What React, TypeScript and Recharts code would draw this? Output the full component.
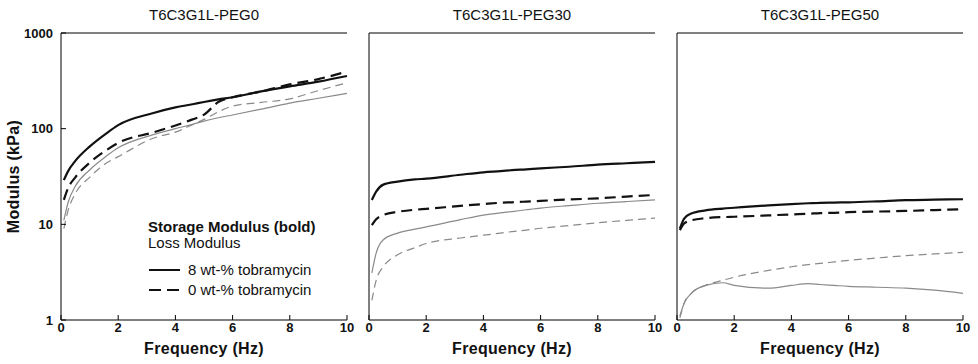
import { LineChart, Line, XAxis, YAxis } from 'recharts'

const FONT = '"Liberation Sans", Arial, Helvetica, sans-serif'
const INK = '#111'
const GREY = '#8a8a8a'

const FREQ = [0.1, 0.25, 0.5, 1, 1.6, 2, 3.2, 4, 4.6, 5, 5.5, 6, 7, 8, 9, 10]
const X_TICKS = [0, 2, 4, 6, 8, 10]
const Y_TICKS = [1, 10, 100, 1000]

// PEG0
const PEG0_STORAGE_8 = [29, 36, 46, 65, 90, 109, 145, 167, 180, 190, 202, 213, 245, 277, 310, 355]
const PEG0_STORAGE_0 = [18, 24, 31, 44, 60, 71, 91, 108, 125, 140, 190, 213, 245, 290, 330, 395]
const PEG0_LOSS_8 = [11, 17, 25, 37, 52, 63, 86, 100, 111, 120, 130, 139, 160, 185, 208, 234]
const PEG0_LOSS_0 = [9, 14, 21, 31, 44, 51, 79, 92, 110, 125, 150, 172, 188, 205, 250, 302]

// PEG30
const PEG30_STORAGE_8 = [18, 22, 26, 28, 29.5, 30, 33, 35, 36, 36.8, 37.6, 38.5, 40, 42, 43.5, 45]
const PEG30_STORAGE_0 = [9.8, 11.3, 12.5, 13.5, 14.2, 14.5, 15.6, 16.3, 16.8, 17, 17.3, 17.6, 18.2, 18.7, 19.5, 20.3]
const PEG30_LOSS_8 = [3.1, 5, 6.9, 8.1, 8.9, 9.4, 11.2, 12.5, 13.2, 13.6, 14.2, 14.8, 15.7, 16.6, 17.3, 18]
const PEG30_LOSS_0 = [1.6, 2.6, 3.6, 4.8, 5.7, 6.3, 7.2, 7.7, 8.1, 8.4, 8.7, 9.1, 9.7, 10.4, 11, 11.6]

// PEG50
const PEG50_STORAGE_8 = [9, 11.5, 13, 14, 14.6, 14.9, 15.8, 16.3, 16.6, 16.8, 16.9, 17, 17.4, 17.9, 18.1, 18.3]
const PEG50_STORAGE_0 = [8.7, 10.2, 11, 11.6, 11.9, 12, 12.4, 12.7, 12.9, 13.1, 13.2, 13.4, 13.6, 13.8, 14.1, 14.4]
const PEG50_LOSS_8 = [1.1, 1.5, 1.9, 2.3, 2.45, 2.3, 2.15, 2.3, 2.4, 2.35, 2.3, 2.25, 2.2, 2.15, 2.05, 1.9]
const PEG50_LOSS_0 = [1.05, 1.5, 1.9, 2.3, 2.6, 2.8, 3.3, 3.6, 3.8, 3.9, 4.05, 4.2, 4.45, 4.7, 4.9, 5.1]

const TITLES = ['T6C3G1L-PEG0', 'T6C3G1L-PEG30', 'T6C3G1L-PEG50']

const build = (s8: number[], s0: number[], l8: number[], l0: number[]) =>
  FREQ.map((f, i) => ({ f, s8: s8[i], s0: s0[i], l8: l8[i], l0: l0[i] }))

const PANELS = [
  { title: TITLES[0], data: build(PEG0_STORAGE_8, PEG0_STORAGE_0, PEG0_LOSS_8, PEG0_LOSS_0), left: 0, width: 352, yw: 61, mr: 5, labels: true },
  { title: TITLES[1], data: build(PEG30_STORAGE_8, PEG30_STORAGE_0, PEG30_LOSS_8, PEG30_LOSS_0), left: 352, width: 306, yw: 17, mr: 3, labels: false },
  { title: TITLES[2], data: build(PEG50_STORAGE_8, PEG50_STORAGE_0, PEG50_LOSS_8, PEG50_LOSS_0), left: 658, width: 320, yw: 19, mr: 15, labels: false },
]

const tickStyle = { fill: INK, fontSize: 13, fontWeight: 'bold', fontFamily: FONT }
const axisLabelStyle = { fill: INK, fontSize: 16, fontWeight: 'bold', fontFamily: FONT, letterSpacing: 0.3 }

function Panel({ p }: { p: (typeof PANELS)[number] }) {
  return (
    <div style={{ position: 'absolute', left: p.left, top: 0 }}>
      <LineChart width={p.width} height={364} data={p.data} margin={{ top: 0, right: p.mr, bottom: 0, left: 0 }}>
        <XAxis
          xAxisId="b"
          dataKey="f"
          type="number"
          domain={[0, 10]}
          ticks={X_TICKS}
          interval={0}
          height={44}
          stroke="#000"
          tickSize={-5}
          tickMargin={8}
          tick={tickStyle}
          label={{ value: 'Frequency (Hz)', position: 'insideBottom', offset: 10, style: axisLabelStyle }}
        />
        <XAxis
          xAxisId="t"
          orientation="top"
          dataKey="f"
          type="number"
          domain={[0, 10]}
          ticks={X_TICKS}
          interval={0}
          height={33}
          stroke="#000"
          tickSize={-5}
          tick={false}
          label={{ value: p.title, position: 'insideTop', offset: 9, style: { fill: INK, fontSize: 15, fontFamily: FONT } }}
        />
        <YAxis
          yAxisId="l"
          scale="log"
          type="number"
          domain={[1, 1000]}
          allowDataOverflow
          ticks={Y_TICKS}
          interval={0}
          width={p.yw}
          stroke="#000"
          tickSize={-5}
          tickMargin={13}
          tick={p.labels ? tickStyle : false}
          label={
            p.labels
              ? { value: 'Modulus (kPa)', angle: -90, position: 'insideLeft', offset: 13, style: { ...axisLabelStyle, textAnchor: 'middle' } }
              : undefined
          }
        />
        <YAxis
          yAxisId="r"
          orientation="right"
          scale="log"
          type="number"
          domain={[1, 1000]}
          allowDataOverflow
          ticks={Y_TICKS}
          interval={0}
          width={0}
          stroke="#000"
          tickSize={-5}
          tick={false}
        />
        <Line xAxisId="b" yAxisId="l" type="monotone" dataKey="l0" stroke={GREY} strokeWidth={1.2} strokeDasharray="8 5" dot={false} isAnimationActive={false} />
        <Line xAxisId="b" yAxisId="l" type="monotone" dataKey="l8" stroke={GREY} strokeWidth={1.2} dot={false} isAnimationActive={false} />
        <Line xAxisId="b" yAxisId="l" type="monotone" dataKey="s0" stroke={INK} strokeWidth={2.2} strokeDasharray="11 6" dot={false} isAnimationActive={false} />
        <Line xAxisId="b" yAxisId="l" type="monotone" dataKey="s8" stroke={INK} strokeWidth={2.2} dot={false} isAnimationActive={false} />
      </LineChart>
    </div>
  )
}

function LegendBox() {
  const row = { display: 'flex', alignItems: 'center', height: 20 }
  return (
    <div style={{ position: 'absolute', left: 148, top: 219, fontFamily: FONT, fontSize: 15, color: INK, lineHeight: '16px' }}>
      <div style={{ fontWeight: 'bold' }}>Storage Modulus (bold)</div>
      <div>Loss Modulus</div>
      <div style={{ height: 9 }} />
      <div style={row}>
        <svg width={36} height={6}>
          <line x1={1} y1={3} x2={32} y2={3} stroke={INK} strokeWidth={2} />
        </svg>
        <span style={{ marginLeft: 4 }}>8 wt-% tobramycin</span>
      </div>
      <div style={row}>
        <svg width={36} height={6}>
          <line x1={1} y1={3} x2={32} y2={3} stroke={INK} strokeWidth={2} strokeDasharray="12 6" />
        </svg>
        <span style={{ marginLeft: 4 }}>0 wt-% tobramycin</span>
      </div>
    </div>
  )
}

export default function App() {
  return (
    <div style={{ position: 'absolute', left: 0, top: 0, width: 978, height: 364, background: '#fff' }}>
      <style>{'.recharts-surface { overflow: visible; }'}</style>
      {PANELS.map(p => (
        <Panel key={p.title} p={p} />
      ))}
      <LegendBox />
    </div>
  )
}
